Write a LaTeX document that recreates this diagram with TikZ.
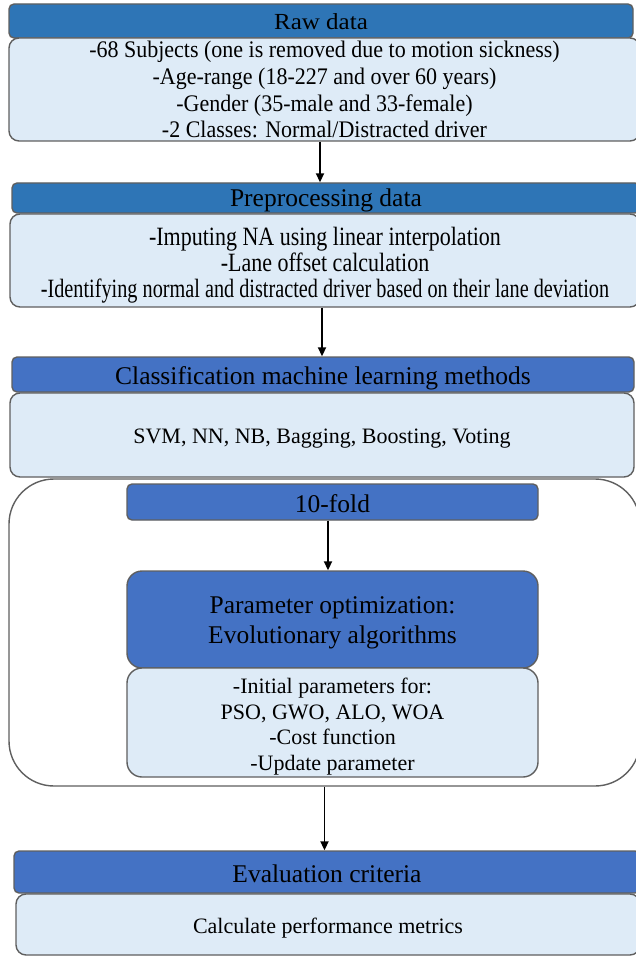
\documentclass[tikz,border=0pt]{standalone}
\usepackage{fontspec}
\setmainfont{Liberation Serif}
\usetikzlibrary{arrows.meta,calc}
\definecolor{hdrA}{HTML}{2E75B6}
\definecolor{hdrB}{HTML}{4472C4}
\definecolor{bodyc}{HTML}{DEEBF7}
\definecolor{edgec}{HTML}{5F5F5F}
\tikzset{
  base/.style={draw=edgec, line width=1.4pt, inner sep=0pt},
  hdrbox/.style={base, fill=hdrB, rounded corners=5pt},
  hdrboxA/.style={hdrbox, fill=hdrA},
  bodybox/.style={base, fill=bodyc, rounded corners=10pt},
  htxt/.style={align=center, inner sep=0pt, text=black, font=\fontsize{25.5}{30}\selectfont},
  btxt/.style={align=center, inner sep=0pt, text=black, font=\fontsize{22}{26.7}\selectfont},
  arr/.style={draw=black, line width=1.9pt, -{Triangle[length=9pt,width=8pt]}},
}
\begin{document}
\begin{tikzpicture}[x=1pt,y=-1pt]
\useasboundingbox (0,0) rectangle (635,957);
% outer container
\node[base, fill=white, rounded corners=45pt, minimum width=631pt, minimum height=307pt] (outer) at (324.5,632.5) {};
% raw data
\node[hdrboxA, minimum width=624pt, minimum height=34pt] (rawh) at (321,21) {};
\node[htxt, font=\fontsize{25}{30}\selectfont] (rawht) at ([yshift=-1pt]rawh.center) {\scalebox{1}[0.92]{Raw data}};
\node[bodybox, minimum width=631pt, minimum height=103pt] (rawb) at (324.5,89.5) {};
\node[btxt] (rawbt) at ([yshift=-3pt]rawb.center) {\scalebox{1}[1.08]{\fontsize{22}{24.7}\selectfont\begin{tabular}{@{}c@{}}-68 Subjects (one is removed due to motion sickness)\\-Age-range (18-227 and over 60 years)\\-Gender (35-male and 33-female)\\-2 Classes: Normal/Distracted driver\end{tabular}}};
% preprocessing
\node[hdrboxA, minimum width=628pt, minimum height=30pt] (preh) at (326,198) {};
\node[htxt] (preht) at ([yshift=-2pt]preh.center) {Preprocessing data};
\node[bodybox, minimum width=630pt, minimum height=93pt] (preb) at (325,260.5) {};
\node[btxt] (prebt) at ([yshift=-5.5pt]preb.center) {\scalebox{1}[1.2]{\fontsize{22}{21.3}\selectfont\begin{tabular}{@{}c@{}}-Imputing NA using linear interpolation\\-Lane offset calculation\\\scalebox{0.92}[1]{-Identifying normal and distracted driver based on their lane deviation}\end{tabular}}};
% classification
\node[hdrbox, minimum width=622pt, minimum height=35pt] (clsh) at (323,374.5) {};
\node[htxt] (clsht) at ([yshift=-3.5pt]clsh.center) {Classification machine learning methods};
\node[bodybox, minimum width=624pt, minimum height=84pt] (clsb) at (322,435) {};
\node[btxt] (clsbt) at ([yshift=-4pt]clsb.center) {SVM, NN, NB, Bagging, Boosting, Voting};
% inner
\node[hdrbox, minimum width=411pt, minimum height=36pt] (fold) at (332.5,502) {};
\node[htxt] (foldt) at ([yshift=-2pt]fold.center) {10-fold};
\node[hdrbox, rounded corners=15pt, minimum width=411pt, minimum height=97pt] (param) at (332.5,619.5) {};
\node[htxt] (paramt) at ([yshift=-3.5pt]param.center) {Parameter optimization:\\Evolutionary algorithms};
\node[bodybox, rounded corners=15pt, minimum width=411pt, minimum height=109pt] (init) at (332.5,722.5) {};
\node[btxt, font=\fontsize{22}{25.7}\selectfont] (initt) at ([yshift=-4pt]init.center) {-Initial parameters for:\\PSO, GWO, ALO, WOA\\-Cost function\\-Update parameter};
% evaluation
\node[hdrbox, minimum width=626pt, minimum height=42pt] (evalh) at (327,872) {};
\node[htxt] (evalht) at ([yshift=-2pt]evalh.center) {Evaluation criteria};
\node[bodybox, minimum width=624pt, minimum height=61pt] (evalb) at (328,924.5) {};
\node[btxt] (evalbt) at ([yshift=-4pt]evalb.center) {Calculate performance metrics};
% arrows
\coordinate (a1s) at (320,141);
\draw[arr] (a1s |- rawb.south) -- (a1s |- preh.north);
\coordinate (a2s) at (322,307);
\draw[arr] (a2s |- preb.south) -- (a2s |- clsh.north);
\coordinate (a3s) at (328,520);
\draw[arr] (a3s |- fold.south) -- (a3s |- param.north);
\draw[arr] (outer.south) -- (outer.south |- evalh.north);
\end{tikzpicture}
\end{document}
